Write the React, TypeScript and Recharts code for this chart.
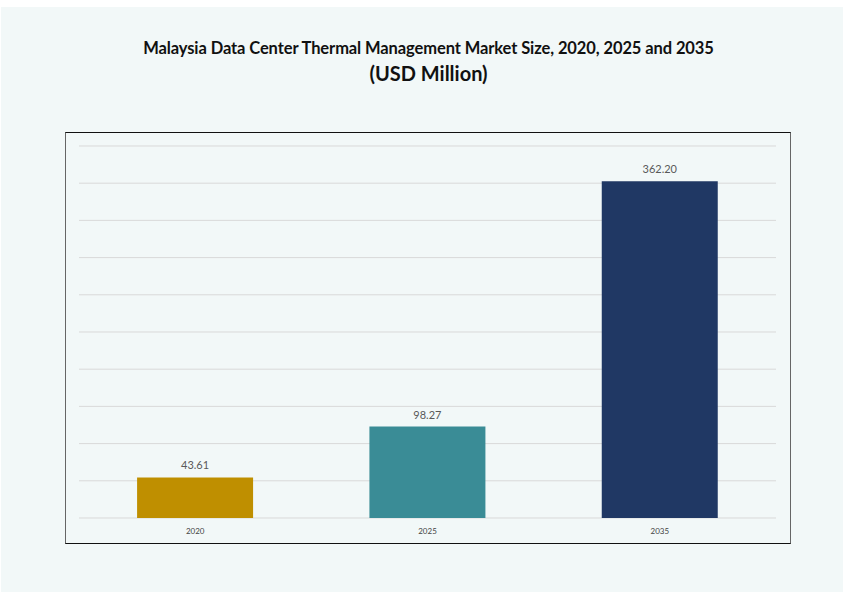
import React from 'react';
import { BarChart, Bar, XAxis, YAxis, CartesianGrid, Cell, LabelList } from 'recharts';

const years = ['2020', '2025', '2035'];
const marketSize = [43.61, 98.27, 362.2];
const barColors = ['#BF8F00', '#3A8C96', '#203864'];
const yTicks = [0, 40, 80, 120, 160, 200, 240, 280, 320, 360, 400];

const chartData = years.map((year, i) => ({ year, value: marketSize[i] }));

const FONT = "'Lato', 'DejaVu Sans', sans-serif";

export default function App() {
    return (
        <div style={{ position: 'absolute', left: 0, top: 0, width: 847, height: 592, background: '#fff', fontFamily: FONT }}>
            <div style={{ position: 'absolute', left: 1, top: 7, width: 842, height: 585, background: '#F2F8F8' }} />
            <div style={{ position: 'absolute', left: 0, top: 38, width: 857, textAlign: 'center', fontSize: 16.5, fontWeight: 700, color: '#111', letterSpacing: -0.1 }}>
                Malaysia Data Center Thermal Management Market Size, 2020, 2025 and 2035
            </div>
            <div style={{ position: 'absolute', left: 0, top: 61, width: 857, textAlign: 'center', fontSize: 20, fontWeight: 700, color: '#111' }}>
                (USD Million)
            </div>
            <div style={{
                position: 'absolute', left: 65, top: 132, width: 726, height: 412, boxSizing: 'border-box',
                border: '1.5px solid #111', borderLeftColor: '#666', borderRightColor: '#666',
            }}>
                <BarChart width={723} height={409} data={chartData} margin={{ top: 13, right: 13, left: 13, bottom: 0 }} barCategoryGap="25%">
                    <CartesianGrid vertical={false} stroke="#D9D9D9" strokeWidth={1} />
                    <XAxis dataKey="year" axisLine={false} tickLine={false} height={24}
                        tick={{ fontSize: 8, fill: '#444', fontFamily: FONT }} tickMargin={4} />
                    <YAxis hide domain={[0, 400]} ticks={yTicks} />
                    <Bar dataKey="value" isAnimationActive={false}>
                        {chartData.map((d, i) => (
                            <Cell key={d.year} fill={barColors[i]} />
                        ))}
                        <LabelList dataKey="value" position="top" offset={8}
                            formatter={(v: any) => Number(v).toFixed(2)}
                            style={{ fontSize: 11, fill: '#595959', fontFamily: FONT }} />
                    </Bar>
                </BarChart>
            </div>
        </div>
    );
}
